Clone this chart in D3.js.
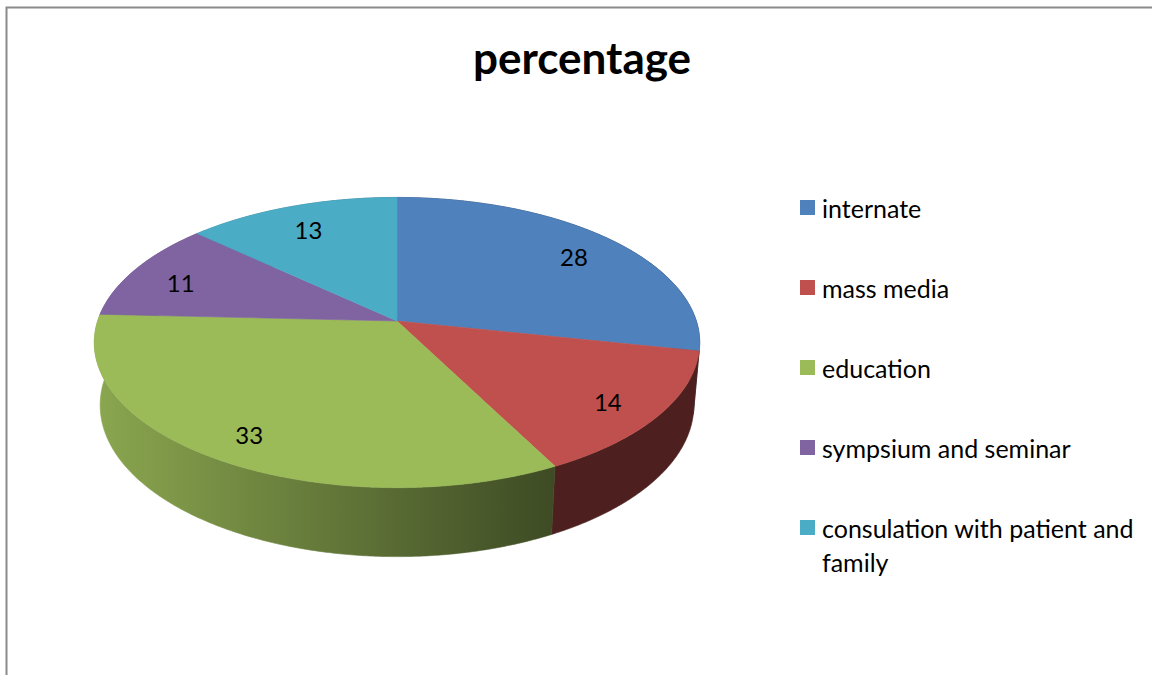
<!DOCTYPE html>
<html>
<head>
<meta charset="utf-8">
<script src="https://cdn.jsdelivr.net/npm/d3@7"></script>
<style>
  html, body { margin: 0; padding: 0; background: #fff; }
  svg { display: block; }
  text { font-family: Lato, "Open Sans", sans-serif; fill: #000; }
</style>
</head>
<body>
<svg id="chart" width="1152" height="675"></svg>
<script>
// Source shares (percent)
const categories = ["internate", "mass media", "education", "sympsium and seminar", "consulation with patient and family"];
const values = [28, 14, 33, 11, 13];
const colors = ["#4f81bd", "#c0504d", "#9bbb59", "#8064a2", "#4bacc6"];
const legendLines = [["internate"], ["mass media"], ["education"], ["sympsium and seminar"], ["consulation with patient and", "family"]];
const title = "percentage";

const W = 1152, H = 675;
const svg = d3.select("#chart");

// Chart frame
svg.append("rect")
  .attr("x", 6.5).attr("y", 7.5)
  .attr("width", W + 20).attr("height", H + 20)
  .attr("fill", "#fff")
  .attr("stroke", "#8a8a8a").attr("stroke-width", 2);

svg.append("text")
  .attr("x", 582).attr("y", 74)
  .attr("text-anchor", "middle")
  .style("font-size", "44px").style("font-weight", "bold")
  .text(title);

// Perspective projection of a flat cylinder (unit radius) seen from above
const cx = 397, cy = 321, focal = 1775, dist = 5.93;
const tilt = 28.3 * Math.PI / 180;
const sT = Math.sin(tilt), cT = Math.cos(tilt);
const depth = 0.24;

function project(x, z, y) {
  const sv = z * sT - y * cT;
  const w = dist - z * cT - y * sT;
  return [cx + focal * x / w, cy + focal * sv / w];
}
// angle measured clockwise from 12 o'clock (far side)
function rim(a, r, y) {
  return project(r * Math.sin(a), -r * Math.cos(a), y);
}
function arcPoints(a0, a1, r, y) {
  const n = Math.max(2, Math.ceil(Math.abs(a1 - a0) / (Math.PI / 360)));
  return d3.range(n + 1).map(i => rim(a0 + (a1 - a0) * i / n, r, y));
}

const pie = d3.pie().sort(null).value(d => d);
const arcs = pie(values);
const line = d3.line();

const defs = svg.append("defs");
const leftX = rim(-Math.PI / 2, 1, 0)[0];
const rightX = rim(Math.PI / 2, 1, 0)[0];

// shading of the rim: lighter on the left, darkening toward the right
const shadeStops = [[0, 0.89], [0.76, 0.40], [1, 0.40]];
function shade(col, k) {
  const c = d3.rgb(col);
  return d3.rgb(c.r * k, c.g * k, c.b * k).formatHex();
}

arcs.forEach((a, i) => {
  const g = defs.append("linearGradient")
    .attr("id", "side" + i)
    .attr("gradientUnits", "userSpaceOnUse")
    .attr("x1", leftX).attr("x2", rightX).attr("y1", 0).attr("y2", 0);
  shadeStops.forEach(([o, k]) => {
    g.append("stop").attr("offset", o).attr("stop-color", shade(colors[i], k));
  });
});

// rim (side walls)
const sides = svg.append("g");
arcs.forEach((a, i) => {
  const top = arcPoints(a.startAngle, a.endAngle, 1, 0);
  const bottom = arcPoints(a.endAngle, a.startAngle, 1, -depth);
  sides.append("path")
    .attr("d", line(top.concat(bottom)) + "Z")
    .attr("fill", `url(#side${i})`)
    .attr("stroke", `url(#side${i})`).attr("stroke-width", 0.6);
});

// top faces
const tops = svg.append("g");
arcs.forEach((a, i) => {
  const pts = [project(0, 0, 0)].concat(arcPoints(a.startAngle, a.endAngle, 1, 0));
  tops.append("path")
    .attr("d", line(pts) + "Z")
    .attr("fill", colors[i])
    .attr("stroke", colors[i]).attr("stroke-width", 0.6);
});

// value labels
const labelR = 0.82;
const labelPos = d => rim((d.startAngle + d.endAngle) / 2, labelR, 0);
svg.append("g").selectAll("text").data(arcs).join("text")
  .attr("x", d => labelPos(d)[0])
  .attr("y", d => labelPos(d)[1] + 4)
  .attr("text-anchor", "middle")
  .attr("dominant-baseline", "central")
  .style("font-size", "24px")
  .text(d => d.data);

// legend
const legend = svg.append("g");
const legY = d3.scalePoint().domain(categories).range([208, 528]);
categories.forEach((c, i) => {
  const y = legY(c);
  legend.append("rect")
    .attr("x", 800).attr("y", y - 8)
    .attr("width", 15).attr("height", 15)
    .attr("fill", colors[i]);
  const t = legend.append("text")
    .attr("x", 822).attr("y", y)
    .attr("dominant-baseline", "central")
    .style("font-size", "25px");
  legendLines[i].forEach((ln, j) => {
    t.append("tspan").attr("x", 822).attr("dy", j === 0 ? 0 : 34).text(ln);
  });
});
</script>
</body>
</html>
